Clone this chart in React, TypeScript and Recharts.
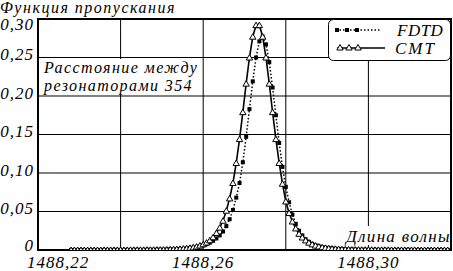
import React from "react";
import {
  LineChart,
  Line,
  XAxis,
  YAxis,
  CartesianGrid,
  Legend,
  ReferenceArea,
} from "recharts";

// wavelength, nm
const wavelength = [
  1488.228, 1488.2288, 1488.2296, 1488.2304, 1488.2312, 1488.232, 1488.2328, 1488.2336, 1488.2344, 1488.2352,
  1488.236, 1488.2368, 1488.2376, 1488.2384, 1488.2392, 1488.24, 1488.2408, 1488.2416, 1488.2424, 1488.2432,
  1488.244, 1488.2448, 1488.2456, 1488.2464, 1488.2472, 1488.248, 1488.2488, 1488.2496, 1488.2504, 1488.2512,
  1488.252, 1488.2528, 1488.2536, 1488.2544, 1488.2552, 1488.256, 1488.2568, 1488.2576, 1488.2584, 1488.2592,
  1488.26, 1488.2608, 1488.2616, 1488.2624, 1488.2632, 1488.264, 1488.2648, 1488.2656, 1488.2664, 1488.2672,
  1488.268, 1488.2688, 1488.2696, 1488.2704, 1488.2712, 1488.272, 1488.2728, 1488.2736, 1488.2744, 1488.2752,
  1488.276, 1488.2768, 1488.2776, 1488.2784, 1488.2792, 1488.28, 1488.2808, 1488.2816, 1488.2824, 1488.2832,
  1488.284, 1488.2848, 1488.2856, 1488.2864, 1488.2872, 1488.288, 1488.2888, 1488.2896, 1488.2904, 1488.2912,
  1488.292, 1488.2928, 1488.2936, 1488.2944, 1488.2952, 1488.296, 1488.2968, 1488.2976, 1488.2984, 1488.2992,
  1488.3, 1488.3008, 1488.3016, 1488.3024, 1488.3032, 1488.304, 1488.3048, 1488.3056, 1488.3064, 1488.3072,
  1488.308, 1488.3088, 1488.3096, 1488.3104, 1488.3112, 1488.312, 1488.3128, 1488.3136, 1488.3144, 1488.3152,
  1488.316, 1488.3168, 1488.3176, 1488.3184, 1488.3192,
];

const fdtd = [
  0, 0, 0, 0, 0, 0, 0, 0, 0, 0,
  0.0001, 0.0001, 0.0001, 0.0001, 0.0001, 0.0001, 0.0001, 0.0001, 0.0001, 0.0002,
  0.0002, 0.0002, 0.0002, 0.0002, 0.0003, 0.0003, 0.0003, 0.0004, 0.0005, 0.0006,
  0.0007, 0.0008, 0.001, 0.0012, 0.0015, 0.0019, 0.0024, 0.003, 0.0038, 0.0048,
  0.006, 0.0075, 0.0095, 0.012, 0.015, 0.019, 0.024, 0.031, 0.04, 0.052,
  0.068, 0.087, 0.114, 0.147, 0.183, 0.219, 0.25, 0.271, 0.277, 0.267,
  0.244, 0.211, 0.175, 0.139, 0.108, 0.082, 0.062, 0.046, 0.034, 0.025,
  0.019, 0.014, 0.0106, 0.008, 0.0061, 0.0047, 0.0036, 0.003, 0.0024, 0.0019,
  0.0016, 0.0013, 0.0011, 0.0009, 0.0007, 0.0006, 0.0005, 0.0004, 0.0003, 0.0003,
  0.0003, 0.0002, 0.0002, 0.0002, 0.0002, 0.0002, 0.0001, 0.0001, 0.0001, 0.0001,
  0.0001, 0.0001, 0.0001, 0.0001, 0.0001, 0, 0, 0, 0, 0,
  0, 0, 0, 0, 0,
];

const cmt = [
  0, 0, 0, 0, 0, 0, 0, 0, 0, 0,
  0.0001, 0.0001, 0.0001, 0.0001, 0.0001, 0.0001, 0.0001, 0.0001, 0.0002, 0.0002,
  0.0002, 0.0002, 0.0002, 0.0003, 0.0003, 0.0003, 0.0004, 0.0005, 0.0005, 0.0006,
  0.0008, 0.001, 0.0012, 0.0015, 0.0018, 0.0022, 0.0028, 0.0035, 0.0045, 0.0058,
  0.0074, 0.0096, 0.0126, 0.0165, 0.022, 0.029, 0.038, 0.051, 0.067, 0.087,
  0.113, 0.144, 0.179, 0.216, 0.25, 0.277, 0.292, 0.292, 0.277, 0.25,
  0.216, 0.179, 0.144, 0.113, 0.086, 0.063, 0.048, 0.037, 0.028, 0.021,
  0.0162, 0.0124, 0.0095, 0.0073, 0.0057, 0.0045, 0.0035, 0.0028, 0.0022, 0.0018,
  0.0015, 0.0012, 0.001, 0.0008, 0.0007, 0.0005, 0.0005, 0.0004, 0.0003, 0.0003,
  0.0003, 0.0003, 0.0002, 0.0002, 0.0002, 0.0002, 0.0002, 0.0001, 0.0001, 0.0001,
  0.0001, 0.0001, 0.0001, 0.0001, 0.0001, 0, 0, 0, 0, 0,
  0, 0, 0, 0, 0,
];

const xTicks = [1488.22, 1488.24, 1488.26, 1488.28, 1488.3, 1488.32];
const xTickText = ["1488,22", "", "1488,26", "", "1488,30", ""];
const yTicks = [0, 0.05, 0.1, 0.15, 0.2, 0.25, 0.3];
const yTickText = ["0", "0,05", "0,10", "0,15", "0,20", "0,25", "0,30"];

const seriesNames = ["FDTD", "CMT"];
const yTitle = "Функция пропускания";
const xTitle = "Длина волны";
const note = ["Расстояние между", "резонаторами 354"];

const serif = { fontFamily: "'Liberation Serif'", fontStyle: "italic" } as const;

const data = wavelength.map((w, i) => ({ w, fdtd: fdtd[i], cmt: cmt[i] }));

function XTick(props: any) {
  const { x, index } = props;
  const label = xTickText[index];
  if (!label) return null;
  return (
    <text
      x={index === 0 ? x + 20 : x}
      y={268}
      textAnchor="middle"
      style={serif}
      fontSize={17}
      letterSpacing={1}
      fill="#000"
    >
      {label}
    </text>
  );
}

function YTick(props: any) {
  const { y, index } = props;
  const dy = index === yTicks.length - 1 ? 5 : index === 0 ? -5 : -3;
  return (
    <text
      x={34}
      y={y + dy}
      textAnchor="end"
      dominantBaseline="central"
      style={serif}
      fontSize={17}
      letterSpacing={1}
      fill="#000"
    >
      {yTickText[index]}
    </text>
  );
}

function triPath(cx: number, cy: number) {
  return `M${cx},${cy - 3} L${cx + 3.2},${cy + 2.5} L${cx - 3.2},${cy + 2.5} Z`;
}

const renderTri = (p: any) => {
  if (p.cx == null || p.cy == null) return <g key={`t${p.index}`} />;
  return (
    <path key={`t${p.index}`} d={triPath(p.cx, p.cy)} fill="#fff" stroke="#000" strokeWidth={1} />
  );
};

const renderSq = (p: any) => {
  if (p.cx == null || p.cy == null) return <g key={`s${p.index}`} />;
  return <rect key={`s${p.index}`} x={p.cx - 2} y={p.cy - 2} width={4} height={4} fill="#000" />;
};

function LegendBox() {
  return (
    <svg width={123} height={42} style={{ display: "block" }}>
      <rect x={0.5} y={0.5} width={122} height={41} rx={5} ry={5} fill="#fff" stroke="#000" strokeWidth={1} />
      <line x1={8} y1={11} x2={52} y2={11} stroke="#000" strokeWidth={1.5} strokeDasharray="1.5 2" />
      <rect x={7} y={9} width={4} height={4} fill="#000" />
      <rect x={17} y={9} width={4} height={4} fill="#000" />
      <rect x={27} y={9} width={4} height={4} fill="#000" />
      <line x1={9} y1={29} x2={57} y2={29} stroke="#000" strokeWidth={1.6} />
      <path d={triPath(12, 28.5)} fill="#fff" stroke="#000" strokeWidth={1} />
      <path d={triPath(21, 28.5)} fill="#fff" stroke="#000" strokeWidth={1} />
      <path d={triPath(30, 28.5)} fill="#fff" stroke="#000" strokeWidth={1} />
      <text x={69} y={17} style={serif} fontSize={17} letterSpacing={0.5} fill="#000">
        {seriesNames[0]}
      </text>
      <text x={67} y={35} style={serif} fontSize={17} letterSpacing={2} fill="#000">
        {seriesNames[1]}
      </text>
    </svg>
  );
}

export default function App() {
  return (
    <div style={{ position: "absolute", left: 0, top: 0, width: 453, height: 271, background: "#fff" }}>
      <LineChart width={453} height={271} data={data} margin={{ top: 19, right: 2, bottom: 0, left: 0 }}>
        <CartesianGrid stroke="#000" strokeWidth={1} />
        <XAxis
          dataKey="w"
          type="number"
          domain={[1488.22, 1488.32]}
          ticks={xTicks}
          interval={0}
          height={21}
          axisLine={false}
          tickLine={false}
          tick={<XTick />}
          allowDataOverflow
        />
        <YAxis
          type="number"
          domain={[0, 0.3]}
          ticks={yTicks}
          interval={0}
          width={38}
          axisLine={false}
          tickLine={false}
          tick={<YTick />}
          allowDataOverflow
        />
        <ReferenceArea x1={1488.22} x2={1488.32} y1={0} y2={0.3} fill="none" stroke="#000" strokeWidth={2} />
        <Line
          dataKey="fdtd"
          name={seriesNames[0]}
          type="linear"
          stroke="#000"
          strokeWidth={1.5}
          strokeDasharray="1.5 2"
          dot={renderSq}
          isAnimationActive={false}
        />
        <Line
          dataKey="cmt"
          name={seriesNames[1]}
          type="linear"
          stroke="#000"
          strokeWidth={1.6}
          dot={renderTri}
          isAnimationActive={false}
        />
        <Legend
          layout="vertical"
          align="center"
          verticalAlign="middle"
          content={() => <LegendBox />}
          wrapperStyle={{ position: "absolute", left: 328, top: 19, width: 123, height: 42 }}
        />
      </LineChart>
      <svg
        width={453}
        height={271}
        style={{ position: "absolute", left: 0, top: 0, pointerEvents: "none" }}
      >
        <text x={0} y={13} style={serif} fontSize={16} letterSpacing={1.5} fill="#000">
          {yTitle}
        </text>
        <rect x={40} y={59} width={161} height={36} fill="#fff" />
        <text x={44} y={72.5} style={serif} fontSize={16} letterSpacing={1.4} fill="#000">
          {note[0]}
        </text>
        <text x={44} y={91} style={serif} fontSize={16} letterSpacing={1.4} fill="#000">
          {note[1]}
        </text>
        <rect x={342} y={226} width={108} height={19} fill="#fff" />
        <text x={346} y={242} style={serif} fontSize={17} letterSpacing={1.3} fill="#000">
          {xTitle}
        </text>
      </svg>
    </div>
  );
}
